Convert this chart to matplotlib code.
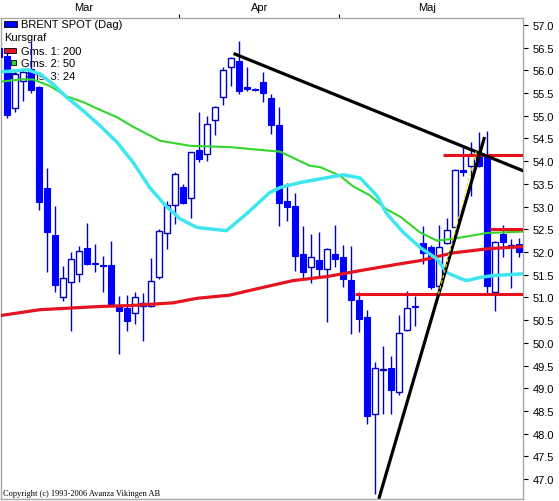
import matplotlib
matplotlib.use("Agg")
import matplotlib.pyplot as plt
from matplotlib.patches import Rectangle
import numpy as np

# daily candles (first one is cut by the left edge)
first_idx = -1
opens = [56.49, 56.32, 55.17, 55.77, 56.03, 55.63, 53.42, 52.37, 51.00, 51.35, 51.52,
         52.08, 51.76, 51.72, 51.71, 50.83, 50.76, 50.66, 50.82, 50.80, 51.44, 52.41,
         53.04, 53.44, 53.20, 54.25, 54.16, 54.91, 55.41, 56.07, 56.21, 55.63, 55.60,
         55.75, 55.39, 54.80, 53.13, 53.02, 51.96, 51.66, 51.82, 51.63, 51.96, 51.89,
         51.38, 50.94, 50.56, 48.43, 49.40, 49.44, 48.92, 50.29, 50.82, 52.20, 52.11,
         51.26, 52.20, 52.56, 53.81, 53.90, 54.12, 54.10, 51.13, 52.40, 52.10, 52.18]
highs = [56.55, 56.40, 56.00, 56.03, 56.63, 55.65, 53.85, 53.02, 51.69, 52.00, 52.13,
         52.64, 52.18, 51.92, 52.25, 51.04, 51.05, 51.11, 51.10, 51.86, 52.50, 53.13,
         53.76, 53.50, 54.20, 55.08, 54.99, 55.22, 56.07, 56.30, 56.65, 56.07, 55.62,
         55.96, 55.48, 55.19, 53.53, 53.30, 52.57, 52.40, 52.45, 52.08, 52.59, 52.15,
         52.14, 51.11, 50.73, 49.57, 49.92, 49.72, 50.61, 51.15, 51.04, 52.58, 52.15,
         52.59, 52.76, 53.83, 54.34, 54.43, 54.64, 54.67, 52.25, 52.59, 52.29, 52.30]
lows = [56.20, 54.95, 55.09, 55.33, 55.50, 52.93, 51.55, 51.12, 50.93, 50.27, 51.34,
        51.72, 51.56, 51.11, 50.80, 49.75, 50.27, 50.41, 50.05, 50.78, 51.40, 52.07,
        52.62, 53.05, 52.74, 53.99, 54.01, 54.58, 55.24, 55.66, 55.48, 55.55, 55.55,
        55.30, 54.60, 52.58, 52.69, 51.59, 51.42, 51.32, 51.44, 50.46, 51.66, 51.24,
        50.19, 50.23, 48.21, 46.67, 48.43, 48.43, 48.84, 50.27, 50.36, 51.74, 51.18,
        51.13, 52.18, 52.54, 53.68, 53.24, 53.88, 51.09, 50.71, 51.89, 51.20, 51.88]
closes = [56.29, 55.02, 55.92, 55.96, 55.57, 53.11, 52.45, 51.28, 51.42, 51.85, 52.02,
          51.74, 51.74, 51.70, 50.82, 50.71, 50.49, 51.02, 50.88, 51.37, 52.46, 53.04,
          53.71, 53.09, 54.20, 54.05, 54.81, 55.19, 56.01, 56.27, 55.55, 55.59, 55.57,
          55.50, 54.80, 53.07, 53.00, 51.92, 51.55, 51.88, 51.63, 52.07, 51.85, 51.41,
          50.95, 50.52, 48.39, 49.44, 49.42, 48.95, 50.22, 50.76, 50.78, 51.98, 51.22,
          52.11, 52.48, 53.81, 53.76, 54.16, 53.90, 51.26, 52.21, 52.23, 52.16, 51.99]

months = ["Mar", "Apr", "Maj"]
month_label_pos = [9.5, 31.5, 52.5]
month_bounds = [21.5, 41.5]

# moving averages (candle index, price)
ma200_x = [-0.9, 4.1, 11.6, 15.3, 20.7, 23.7, 27.8, 31.2, 35.7, 40.0, 44.1, 49.1, 51.6, 55.7, 60.0, 64.5]
ma200_y = [50.60, 50.73, 50.80, 50.82, 50.88, 50.98, 51.05, 51.19, 51.37, 51.46, 51.59, 51.74, 51.81, 51.98, 52.07, 52.12]
ma50_x = [-0.9, 1.6, 3.2, 5.3, 7.4, 9.5, 11.6, 13.7, 15.7, 19.1, 22.8, 27.8, 32.8, 34.1, 37.8, 39.1,
          41.6, 43.2, 45.3, 47.3, 49.1, 51.6, 53.7, 55.7, 60.0, 64.5]
ma50_y = [55.75, 55.80, 55.80, 55.66, 55.43, 55.30, 55.13, 54.97, 54.76, 54.45, 54.34, 54.31, 54.23, 54.21,
          53.90, 53.87, 53.68, 53.45, 53.25, 52.95, 52.78, 52.43, 52.25, 52.29, 52.42, 52.45]
ma24_x = [-0.9, 1.2, 2.4, 4.1, 5.7, 7.4, 9.5, 11.6, 13.7, 15.7, 17.8, 19.9, 21.6, 23.7, 27.4, 29.9,
          32.8, 34.1, 36.6, 39.1, 42.0, 44.1, 46.2, 47.4, 49.5, 51.6, 53.7, 54.9, 56.6, 57.4, 59.1, 60.7, 64.5]
ma24_y = [55.97, 55.99, 56.02, 55.92, 55.70, 55.41, 55.11, 54.78, 54.42, 53.98, 53.42, 53.00, 52.73, 52.54,
          52.47, 52.84, 53.31, 53.42, 53.53, 53.61, 53.70, 53.63, 53.24, 52.85, 52.43, 52.10, 51.85, 51.55,
          51.42, 51.37, 51.44, 51.48, 51.52]

# drawn trend lines and levels
trend_down_x, trend_down_y = [28.46, 64.46], [56.36, 53.79]
trend_up_x, trend_up_y = [46.5, 59.6], [46.6, 54.5]
fan_x, fan_y = [53.9, 58.7], [51.07, 54.27]
level_prices = [54.14, 52.51, 51.07]
level_starts = [54.5, 60.3, 43.5]

W, H = 559, 502
fig = plt.figure(figsize=(W / 100, H / 100), dpi=100)
ax = fig.add_axes([1.5 / W, 2 / H, 521.5 / W, 481 / H])
ax.set_xlim(-0.725, 64.46)
ax.set_ylim(46.56, 57.154)

o = np.array(opens); h = np.array(highs); l = np.array(lows); c = np.array(closes)
x = np.arange(len(o)) + first_idx
up = c >= o
ax.vlines(x, l, h, color="#0000c0", lw=1.0, zorder=2)
ax.bar(x[~up], (o - c)[~up], bottom=c[~up], width=0.72, color="#0000ff",
       edgecolor="#0000ff", lw=0.8, zorder=3)
ax.bar(x[up], (c - o)[up], bottom=o[up], width=0.72, facecolor="white",
       edgecolor="#0000c0", lw=1.0, zorder=3)

ax.plot(ma200_x, ma200_y, color="#e41420", lw=2.3, zorder=4)
ax.plot(ma50_x, ma50_y, color="#33d62a", lw=1.5, zorder=4)
ax.plot(ma24_x, ma24_y, color="#3ee6ef", lw=2.5, zorder=4)

for p, s in zip(level_prices, level_starts):
    ax.plot([s, 64.46], [p, p], color="#e8101a", lw=2.2, zorder=5, solid_capstyle="butt")
ax.plot(trend_down_x, trend_down_y, color="black", lw=2.3, zorder=6)
ax.plot(trend_up_x, trend_up_y, color="black", lw=2.3, zorder=6)
ax.plot(fan_x, fan_y, color="#f0f000", lw=0.8, ls=(0, (3, 2)), zorder=7)

# axes look
for sp in ax.spines.values():
    sp.set_color("#a8a8a8")
    sp.set_linewidth(1)
ax.yaxis.tick_right()
ticks = np.arange(47.0, 57.01, 0.5)
ax.set_yticks(ticks)
ax.set_yticklabels(["%.1f" % t for t in ticks], fontsize=8, family="Liberation Sans")
ax.tick_params(axis="y", length=3.6, width=0.8, pad=3.5, color="black")

ax.xaxis.tick_top()
ax.set_xticks(month_bounds)
ax.set_xticklabels(["", ""])
ax.set_xticks(month_label_pos, minor=True)
ax.set_xticklabels(months, minor=True, fontsize=8, family="Liberation Sans")
ax.tick_params(axis="x", which="major", length=3, width=0.8, color="black")
ax.tick_params(axis="x", which="minor", length=0, pad=4)


def pa(px, py):
    return ((px - 1.5) / 521.5, (500 - py) / 481)


# legend, sits under the candles
legend_rows = [("BRENT SPOT (Dag)", 25, "#0000ff", 4, 17, 22, 28),
               ("Gms. 1: 200", 52, "#e41420", 4, 16, 49, 54),
               ("Gms. 2: 50", 64, "#33d62a", 11, 16, 61, 66),
               ("Gms. 3: 24", 77, "#3ee6ef", 11, 16, 74, 79)]
for txt, ty, col, x0, x1, y0, y1 in legend_rows:
    bx, by = pa(x0, y1)
    bw = (x1 - x0) / 521.5
    bh = (y1 - y0) / 481
    ax.add_patch(Rectangle((bx, by), bw, bh, transform=ax.transAxes, facecolor=col,
                           edgecolor="black", lw=0.6, zorder=1))
    ax.text(*pa(21, ty), txt, transform=ax.transAxes, fontsize=8, family="Liberation Sans",
            va="center", ha="left", zorder=1)
ax.text(*pa(4, 38), "Kursgraf", transform=ax.transAxes, fontsize=8, family="Liberation Sans",
        va="center", ha="left", zorder=1)

ax.text(*pa(3, 494), "Copyright (c) 1993-2006 Avanza Vikingen AB", transform=ax.transAxes,
        fontsize=6, family="Liberation Serif", va="center", ha="left", zorder=1)

fig.savefig("out.png", dpi=100)
